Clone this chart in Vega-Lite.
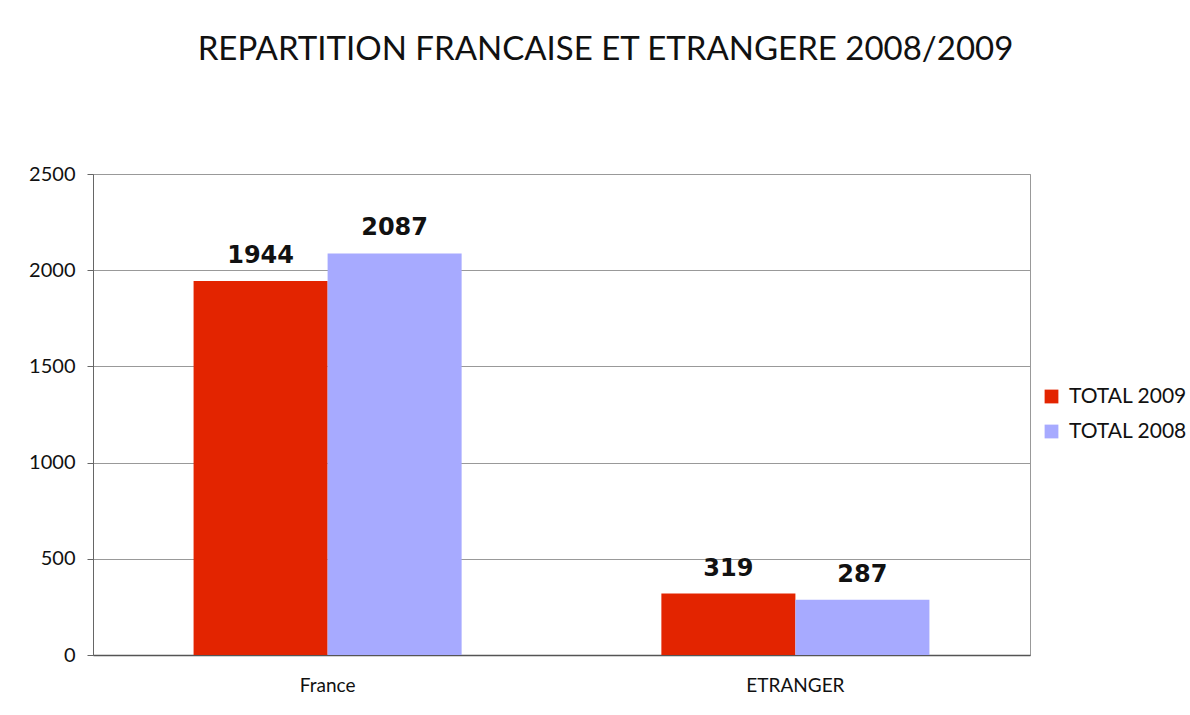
{
  "$schema": "https://vega.github.io/schema/vega-lite/v6.json",
  "autosize": {"type": "none"},
  "width": 937,
  "height": 481,
  "padding": {"left": 93, "top": 174, "right": 160, "bottom": 60},
  "background": "white",
  "title": {
    "text": "REPARTITION FRANCAISE ET ETRANGERE 2008/2009",
    "font": "Lato",
    "fontSize": 33,
    "fontWeight": "normal",
    "color": "#111111",
    "anchor": "middle",
    "dx": 44,
    "offset": 97
  },
  "data": {
    "values": [
      {"zone": "France", "serie": "TOTAL 2009", "valeur": 1944},
      {"zone": "France", "serie": "TOTAL 2008", "valeur": 2087},
      {"zone": "ETRANGER", "serie": "TOTAL 2009", "valeur": 319},
      {"zone": "ETRANGER", "serie": "TOTAL 2008", "valeur": 287}
    ]
  },
  "encoding": {
    "x": {
      "field": "zone",
      "type": "nominal",
      "sort": ["France", "ETRANGER"],
      "scale": {"paddingInner": 0.427, "paddingOuter": 0.215},
      "axis": {
        "title": null,
        "labelAngle": 0,
        "labelFont": "Lato",
        "labelFontSize": 19,
        "labelColor": "#111111",
        "labelPadding": 21,
        "ticks": false,
        "domainColor": "#555555",
        "domainWidth": 1.5
      }
    },
    "xOffset": {
      "field": "serie",
      "type": "nominal",
      "sort": ["TOTAL 2009", "TOTAL 2008"],
      "scale": {"paddingInner": 0, "paddingOuter": 0}
    },
    "y": {
      "field": "valeur",
      "type": "quantitative",
      "scale": {"domain": [0, 2500]},
      "axis": {
        "title": null,
        "values": [0, 500, 1000, 1500, 2000, 2500],
        "format": "d",
        "labelFont": "Lato",
        "labelFontSize": 20,
        "labelColor": "#111111",
        "labelPadding": 12,
        "tickSize": 6,
        "tickColor": "#666666",
        "domainColor": "#666666",
        "gridColor": "#999999",
        "gridWidth": 1
      }
    }
  },
  "layer": [
    {
      "mark": {"type": "bar"},
      "encoding": {
        "color": {
          "field": "serie",
          "type": "nominal",
          "scale": {"domain": ["TOTAL 2009", "TOTAL 2008"], "range": ["#E32400", "#A7AAFF"]},
          "legend": {
            "title": null,
            "orient": "none",
            "legendX": 948,
            "legendY": 212,
            "symbolType": "square",
            "symbolSize": 190,
            "symbolStrokeWidth": 0,
            "symbolOpacity": 1,
            "labelFont": "Lato",
            "labelFontSize": 21,
            "labelColor": "#111111",
            "labelOffset": 7,
            "rowPadding": 13,
            "labelLimit": 300
          }
        }
      }
    },
    {
      "mark": {"type": "text", "font": "DejaVu Sans", "fontWeight": "bold", "fontSize": 24, "dy": -18, "baseline": "alphabetic", "color": "#111111"},
      "encoding": {
        "text": {"field": "valeur", "type": "quantitative"}
      }
    }
  ],
  "config": {
    "view": {"stroke": "#999999", "strokeWidth": 1}
  }
}
